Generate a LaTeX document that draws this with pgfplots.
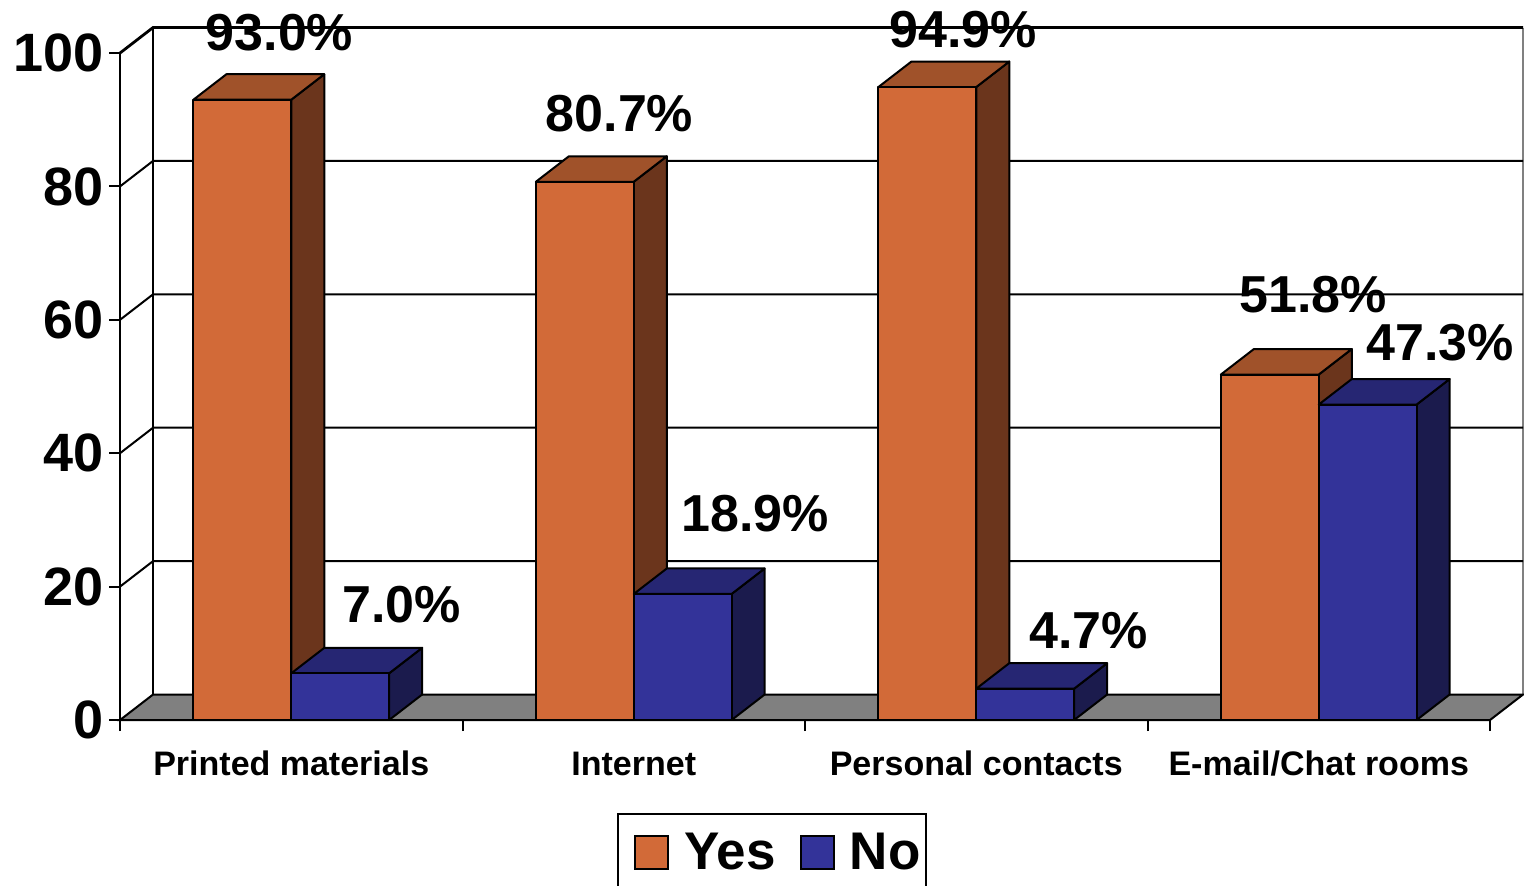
\documentclass[border=0pt]{standalone}
\usepackage{fontspec}
\setmainfont{Liberation Sans}
\usepackage{pgfplots}
\pgfplotsset{compat=1.18}
\definecolor{yesF}{RGB}{210,106,56}
\definecolor{yesT}{RGB}{160,82,42}
\definecolor{yesS}{RGB}{107,53,28}
\definecolor{noF}{RGB}{51,51,153}
\definecolor{noT}{RGB}{38,38,115}
\definecolor{noS}{RGB}{27,27,77}
\definecolor{floorc}{RGB}{128,128,128}

\def\dx{0.0964}
\def\dy{3.82}
\def\bw{0.2857}

\newcommand{\threedbar}[3]{% #1 left edge, #2 value, #3 colour prefix
  \pgfmathsetmacro\bL{#1}%
  \pgfmathsetmacro\bR{#1+\bw}%
  \pgfmathsetmacro\bRR{#1+\bw+\dx}%
  \pgfmathsetmacro\bLL{#1+\dx}%
  \pgfmathsetmacro\bH{#2}%
  \pgfmathsetmacro\bHH{#2+\dy}%
  \edef\barcmds{%
    \noexpand\addplot[forget plot, draw=black, line width=1pt, line join=round, fill=#3S] coordinates {(\bR,0) (\bRR,\dy) (\bRR,\bHH) (\bR,\bH)} -- cycle;
    \noexpand\addplot[forget plot, draw=black, line width=1pt, line join=round, fill=#3T] coordinates {(\bL,\bH) (\bR,\bH) (\bRR,\bHH) (\bLL,\bHH)} -- cycle;
    \noexpand\addplot[forget plot, draw=black, line width=1pt, line join=round, fill=#3F] coordinates {(\bL,0) (\bR,0) (\bR,\bH) (\bL,\bH)} -- cycle;
  }%
  \barcmds
}

\begin{document}
\begin{tikzpicture}
\begin{axis}[
  x=171.25pt, y=3.335pt,
  xmin=0, xmax=4.0964, ymin=0, ymax=103.82,
  axis lines*=left,
  axis line style={draw=none},
  clip=false,
  tick align=outside,
  major tick length=5.5pt,
  tick style={black, line width=1pt},
  ytick={0,20,40,60,80,100},
  xtick={0,1,2,3,4},
  xticklabels={,,,,},
  extra x ticks={0.5,1.5,2.5,3.5},
  extra x tick labels={Printed materials,Internet,Personal contacts,E-mail/Chat rooms},
  extra x tick style={major tick length=0pt, tick style={draw=none}},
  yticklabel style={font=\fontsize{27}{30}\selectfont\bfseries, inner sep=0pt, anchor=east, xshift=-2.5pt},
  xticklabel style={font=\fontsize{17}{20}\selectfont\bfseries, inner sep=0pt, text height=12.4pt, anchor=north, yshift=-15pt},
  /pgf/number format/assume math mode=true,
  legend image code/.code={\path (0pt,0pt); \draw[#1, draw=black, line width=1pt] (5pt,-8.25pt) rectangle (21.5pt,8.25pt);},
  legend columns=2,
  legend style={at={(0.465,-0.134)}, anchor=north, draw=black, line width=1pt,
    inner xsep=3pt, inner ysep=9.5pt, font=\fontsize{26.5}{29}\selectfont\bfseries,
    nodes={inner sep=0pt},
    /tikz/every odd column/.append style={column sep=7.5pt},
    /tikz/every even column/.append style={column sep=7pt}},
]
% back wall and left wall grid
\addplot[forget plot, black, line width=1pt] coordinates {(0.0964,3.82) (0.0964,103.82)};
\addplot[forget plot, gray, line width=0.6pt] coordinates {(4.0964,3.82) (4.0964,103.82)};
\addplot[forget plot, black, line width=1pt] coordinates {(0,20) (0.0964,23.82) (4.0964,23.82)};
\addplot[forget plot, black, line width=1pt] coordinates {(0,40) (0.0964,43.82) (4.0964,43.82)};
\addplot[forget plot, black, line width=1pt] coordinates {(0,60) (0.0964,63.82) (4.0964,63.82)};
\addplot[forget plot, black, line width=1pt] coordinates {(0,80) (0.0964,83.82) (4.0964,83.82)};
\addplot[forget plot, black, line width=1.4pt] coordinates {(0,100) (0.0964,103.82) (4.0964,103.82)};
% floor
\addplot[forget plot, draw=black, line width=1pt, fill=floorc] coordinates {(0,0) (4,0) (4.0964,3.82) (0.0964,3.82)} -- cycle;
% bars
\threedbar{0.2143}{93.0}{yes}
\threedbar{0.5}{7.0}{no}
\threedbar{1.2143}{80.7}{yes}
\threedbar{1.5}{18.9}{no}
\threedbar{2.2143}{94.9}{yes}
\threedbar{2.5}{4.7}{no}
\threedbar{3.2143}{51.8}{yes}
\threedbar{3.5}{47.3}{no}
% front y axis
\addplot[forget plot, black, line width=1pt] coordinates {(0,0) (0,100)};
% data labels
\begin{scope}[every node/.style={anchor=base, inner sep=0pt, font=\fontsize{26}{30}\selectfont\bfseries}]
\node at (axis cs:0.4657,100.45) {93.0\%};
\node at (axis cs:0.8219,14.69) {7.0\%};
\node at (axis cs:1.4584,88.16) {80.7\%};
\node at (axis cs:1.8540,28.19) {18.9\%};
\node at (axis cs:2.4613,100.90) {94.9\%};
\node at (axis cs:2.8277,10.79) {4.7\%};
\node at (axis cs:3.4832,61.17) {51.8\%};
\node at (axis cs:3.8540,53.97) {47.3\%};
\end{scope}
\addlegendimage{fill=yesF}
\addlegendentry{Yes}
\addlegendimage{fill=noF}
\addlegendentry{No}
\coordinate (bbsw) at (axis cs:-0.3504,-24.74);
\coordinate (bbne) at (axis cs:4.0993,107.95);
\end{axis}
\pgfresetboundingbox
\path[use as bounding box] (bbsw) rectangle (bbne);
\end{tikzpicture}
\end{document}
